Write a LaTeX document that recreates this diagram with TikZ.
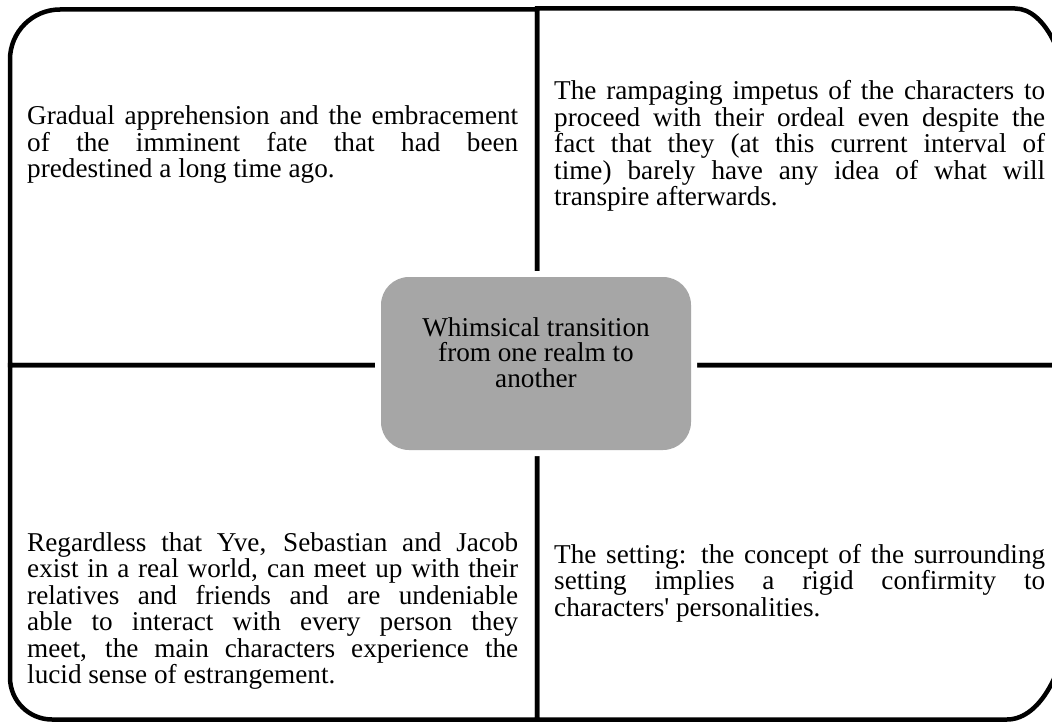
\documentclass[tikz,border=0pt]{standalone}
\usepackage{fontspec}
\setmainfont{Liberation Serif}[Ligatures=TeXOff]
\definecolor{boxgray}{RGB}{166,166,166}
\newlength{\blockw}
\setlength{\blockw}{491pt}
% a justified line and a last (ragged) line of a block
\newcommand{\jline}[1]{\hbox to \blockw{#1}}
\newcommand{\lline}[1]{\hbox to \blockw{#1\hfil}}
\newcommand{\txtblock}[1]{\vtop{\baselineskip=26.5pt\lineskiplimit=-10pt #1}}
\begin{document}
\begin{tikzpicture}[x=1pt,y=-1pt,
  frame/.style={draw=black,line width=4.5pt,line join=miter},
  blk/.style={inner sep=0pt,anchor=base west,font=\fontsize{27.2}{26.5}\selectfont},
  cbox/.style={fill=boxgray,rounded corners=28pt,minimum width=310pt,minimum height=173pt,
    inner sep=0pt,preaction={draw=white,line width=12pt}},
  ctext/.style={inner sep=0pt,align=center,font=\fontsize{27.2}{25.5}\selectfont}]
\useasboundingbox (0,0) rectangle (1052,722);
\clip (0,0) rectangle (1052,722);
\fill[white] (0,0) rectangle (1052,722);

% four quadrants, each with one rounded outer corner (right side runs past the edge)
\draw[frame] (537,365) -- (10,365) -- (10,59.5) arc[start angle=180,end angle=270,radius=50] -- (537,9.5) -- cycle;
\draw[frame] (537,8.5) -- (1015,8.5) arc[start angle=270,end angle=360,x radius=55,y radius=113] -- (1070,365) -- (537,365) -- cycle;
\draw[frame] (537,365) -- (1070,365) -- (1070,597.5) arc[start angle=0,end angle=90,x radius=63,y radius=122] -- (537,719.5) -- cycle;
\draw[frame] (537,719.5) -- (52,719.5) arc[start angle=90,end angle=180,radius=42] -- (10,365) -- (537,365) -- cycle;

% quadrant texts
\node[blk] (tl) at (27,125) {\txtblock{%
  \jline{Gradual apprehension and the embracement}
  \jline{of the imminent fate that had been}
  \lline{predestined a long time ago.}}};

\node[blk] (tr) at (554,100) {\txtblock{%
  \jline{The rampaging impetus of the characters to}
  \jline{proceed with their ordeal even despite the}
  \jline{fact that they (at this current interval of}
  \jline{time) barely have any idea of what will}
  \lline{transpire afterwards.}}};

\node[blk] (bl) at (27,551) {\txtblock{%
  \jline{Regardless that Yve, Sebastian and Jacob}
  \jline{exist in a real world, can meet up with their}
  \jline{relatives and friends and are undeniable}
  \jline{able to interact with every person they}
  \jline{meet, the main characters experience the}
  \lline{lucid sense of estrangement.}}};

\node[blk] (br) at (554,563) {\txtblock{%
  \jline{The setting: the concept of the surrounding}
  \jline{setting implies a rigid confirmity to}
  \lline{characters' personalities.}}};

% central box and its label
\node[cbox] (c) at (536,363.5) {};
\node[ctext] (ct) at (536,352.5) {Whimsical transition\\from one realm to\\another};
\end{tikzpicture}
\end{document}
